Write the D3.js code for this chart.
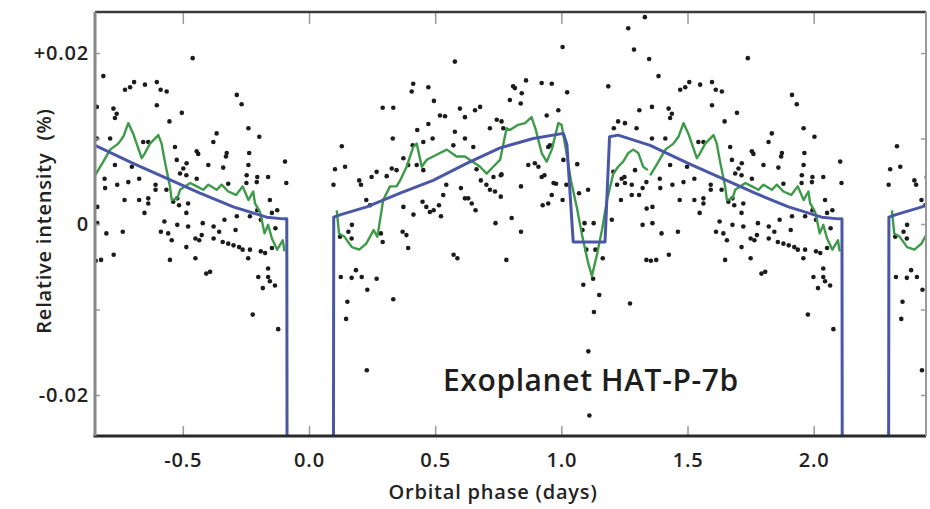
<!DOCTYPE html>
<html>
<head>
<meta charset="utf-8">
<script src="https://cdn.jsdelivr.net/npm/d3@7"></script>
<style>
  body { margin: 0; background: #fff; }
  svg text { font-family: "Open Sans", "DejaVu Sans", sans-serif; }
</style>
</head>
<body>
<div id="chart"></div>
<script>
// Orbital period used to fold the light curve (days)
const periodDays = 2.2;

const xTicks = [-0.5, 0, 0.5, 1, 1.5, 2];
const xTickLabels = ["-0.5", "0.0", "0.5", "1.0", "1.5", "2.0"];
const yTicks = [-0.02, -0.01, 0, 0.01, 0.02];
const yLabelTicks = [0.02, 0, -0.02];
const yLabelText = ["+0.02", "0", "-0.02"];

// raw measurements over one period: [phase (days), relative intensity (%)]
const observations = [
  [-0.461,0.0194],[-0.815,0.0173],[-0.729,0.0157],[-0.709,0.0160],[-0.693,0.0166],[-0.650,0.0163],[-0.603,0.0166],[-0.588,0.0157],
  [-0.564,0.0155],[-0.841,0.0137],[-0.775,0.0135],[-0.762,0.0129],[-0.769,0.0124],[-0.603,0.0139],[-0.504,0.0130],[-0.553,0.0120],
  [-0.286,0.0151],[-0.267,0.0140],[-0.240,0.0112],[-0.366,0.0106],[-0.379,0.0096],[-0.197,0.0102],[-0.841,0.0100],[-0.788,0.0100],
  [-0.531,0.0090],[-0.445,0.0085],[-0.439,0.0082],[-0.326,0.0083],[-0.329,0.0079],[-0.237,0.0083],[-0.657,0.0096],[-0.637,0.0096],
  [-0.524,0.0075],[-0.485,0.0071],[-0.498,0.0065],[-0.399,0.0069],[-0.340,0.0066],[-0.240,0.0069],[-0.769,0.0069],[-0.702,0.0067],
  [-0.511,0.0059],
  [0.578,0.0190],[0.413,0.0164],[0.407,0.0155],[0.473,0.0160],[0.495,0.0144],[0.292,0.0136],[0.334,0.0136],[0.598,0.0135],
  [0.618,0.0125],[0.519,0.0127],[0.539,0.0126],[0.473,0.0117],[0.429,0.0110],[0.332,0.0100],[0.130,0.0091],[0.578,0.0108],
  [0.490,0.0100],[0.453,0.0096],[0.411,0.0092],[0.572,0.0092],[0.618,0.0100],[-0.095,0.0073],[0.103,0.0064],[0.143,0.0067],
  [0.268,0.0061],[0.328,0.0065],[0.347,0.0063],[0.374,0.0077],[0.393,0.0069],[0.427,0.0069],[0.453,0.0063],
  [1.005,0.0207],[1.265,0.0229],[1.331,0.0242],[1.288,0.0204],[1.348,0.0193],[1.186,0.0161],[1.023,0.0154],[0.922,0.0165],
  [0.962,0.0164],[0.860,0.0168],[0.809,0.0161],[0.816,0.0159],[0.843,0.0153],[0.839,0.0141],[0.796,0.0145],[0.658,0.0133],
  [0.678,0.0137],[0.988,0.0133],[0.942,0.0127],[0.744,0.0122],[0.763,0.0120],[0.770,0.0112],[0.717,0.0112],[1.309,0.0133],
  [1.225,0.0120],[1.252,0.0118],[1.208,0.0112],[1.298,0.0112],[0.651,0.0090],[0.955,0.0092],[0.948,0.0090],[0.869,0.0069],
  [0.895,0.0071],[0.909,0.0067],[1.008,0.0075],[1.063,0.0070],[0.763,0.0058],[0.664,0.0064],[1.292,0.0063],[1.206,0.0061],
  [-0.810,0.0053],[-0.760,0.0046],[-0.716,0.0049],[-0.673,0.0053],[-0.731,0.0028],[-0.673,0.0028],[-0.637,0.0030],[-0.637,0.0024],
  [-0.652,0.0013],[-0.608,0.0046],[-0.608,0.0040],[-0.565,0.0040],[-0.522,0.0030],[-0.515,0.0022],[-0.479,0.0024],[-0.486,0.0013],
  [-0.839,0.0020],[-0.839,0.0001],[-0.803,-0.0011],[-0.738,-0.0009],[-0.573,0.0003],[-0.587,-0.0009],[-0.558,-0.0011],[-0.522,-0.0001],
  [-0.479,-0.0003],[-0.421,0.0001],[-0.378,-0.0003],[-0.356,-0.0009],[-0.335,0.0005],[-0.291,-0.0007],[-0.544,-0.0019],[-0.486,-0.0027],
  [-0.450,-0.0017],[-0.435,-0.0019],[-0.378,-0.0017],[-0.342,-0.0021],[-0.320,-0.0023],[-0.299,-0.0025],[-0.277,-0.0027],[-0.263,-0.0030],
  [-0.234,-0.0030],[-0.191,-0.0032],[-0.147,-0.0028],[-0.824,-0.0042],[-0.774,-0.0036],[-0.551,-0.0042],[-0.450,-0.0040],[-0.241,-0.0040],
  [-0.162,-0.0052],[-0.407,-0.0058],[-0.162,-0.0062],[-0.234,0.0009],[-0.205,0.0016],[-0.191,0.0005],[-0.147,0.0013],[-0.126,0.0016],
  [-0.133,-0.0005],[-0.205,0.0055],[-0.162,0.0055],[-0.090,0.0048],[-0.155,0.0028],[-0.248,0.0048],[-0.486,0.0057],[-0.808,0.0042],
  [-0.538,0.0026],[-0.286,0.0009],[-0.207,0.0049],[-0.320,0.0047],[-0.445,0.0053],[-0.247,0.0057],[-0.845,-0.0043],[-0.425,-0.0013],
  [-0.392,-0.0056],[-0.201,-0.0062],[-0.174,-0.0034],[-0.183,-0.0075],[-0.155,-0.0067],[-0.135,-0.0072],[-0.223,-0.0106],[-0.122,-0.0123],
  [0.097,0.0046],[0.199,0.0051],[0.206,0.0046],[0.227,0.0028],[0.242,0.0022],[0.170,-0.0001],[0.285,-0.0011],[0.292,-0.0021],
  [0.371,-0.0009],[0.386,-0.0013],[0.393,-0.0028],[0.414,0.0011],[0.450,0.0026],[0.465,0.0020],[0.479,0.0014],[0.494,0.0016],
  [0.515,0.0022],[0.523,0.0009],[0.544,0.0046],[0.573,-0.0036],[0.588,-0.0040],[0.602,0.0042],[0.631,0.0030],[0.645,0.0024],
  [0.660,0.0016],[0.681,0.0051],[0.703,0.0046],[0.717,0.0040],[0.731,0.0055],[0.760,0.0057],[0.760,0.0032],[0.739,0.0001],
  [0.803,0.0007],[0.840,0.0044],[0.840,-0.0009],[0.782,-0.0042],[0.933,0.0057],[0.926,0.0022],[0.969,0.0048],[0.962,0.0034],
  [1.020,0.0046],[1.005,0.0028],[1.070,0.0036],[1.106,0.0040],[1.092,0.0001],[1.128,0.0001],[1.084,-0.0007],[1.099,-0.0030],
  [1.135,-0.0030],[1.164,-0.0040],[1.200,0.0005],[1.221,0.0046],[1.250,0.0055],[1.236,0.0028],[1.279,0.0046],[1.308,0.0034],
  [1.322,0.0042],[1.337,0.0049],[1.322,-0.0001],[1.337,-0.0042],
  [0.248,0.0055],[0.308,0.0056],[0.374,0.0020],[0.532,0.0034],[0.618,0.0030],[0.737,0.0038],[0.922,0.0055],[0.979,0.0047],
  [1.252,0.0048],[1.239,0.0053],[1.279,0.0034],[1.338,0.0018],[0.948,0.0024],
  [0.126,-0.0062],[0.169,-0.0063],[0.186,-0.0054],[0.209,-0.0062],[0.268,-0.0064],[0.123,-0.0015],[0.169,-0.0017],[0.156,-0.0009],
  [0.231,-0.0077],[0.334,-0.0088],[0.152,-0.0091],[0.147,-0.0111],[0.229,-0.0171],
  [1.087,-0.0071],[1.126,-0.0064],[1.150,-0.0083],[1.129,-0.0103],[1.272,-0.0093],[1.107,-0.0149],[1.111,-0.0224]
];

// smoothed (binned) data, before and after the transit
const binnedBeforeTransit = [
  [-0.848,0.0057],[-0.815,0.0073],[-0.788,0.0087],[-0.756,0.0094],[-0.736,0.0102],[-0.716,0.0118],[-0.697,0.0106],[-0.683,0.0094],
  [-0.663,0.0077],[-0.650,0.0083],[-0.630,0.0094],[-0.597,0.0104],[-0.584,0.0094],[-0.578,0.0084],[-0.571,0.0073],[-0.551,0.0044],
  [-0.544,0.0028],[-0.522,0.0030],[-0.511,0.0040],[-0.471,0.0048],[-0.445,0.0044],[-0.419,0.0040],[-0.399,0.0046],[-0.366,0.0040],
  [-0.346,0.0046],[-0.320,0.0038],[-0.289,0.0034],[-0.263,0.0044],[-0.240,0.0028],[-0.221,0.0038],[-0.214,0.0024],[-0.194,0.0014],
  [-0.176,-0.0011],[-0.162,-0.0001],[-0.147,-0.0017],[-0.126,-0.0030],[-0.104,-0.0019],[-0.097,-0.0032]
];
const binnedAfterTransit = [
  [0.110,0.0016],[0.119,-0.0011],[0.141,-0.0015],[0.170,-0.0027],[0.199,-0.0030],[0.227,-0.0023],[0.256,-0.0007],[0.271,-0.0015],
  [0.294,0.0028],[0.321,0.0044],[0.347,0.0044],[0.361,0.0051],[0.387,0.0067],[0.413,0.0090],[0.427,0.0094],[0.447,0.0067],
  [0.466,0.0075],[0.492,0.0079],[0.519,0.0083],[0.546,0.0087],[0.585,0.0079],[0.618,0.0079],[0.638,0.0075],[0.678,0.0067],
  [0.704,0.0059],[0.730,0.0067],[0.757,0.0075],[0.783,0.0112],[0.796,0.0110],[0.829,0.0116],[0.856,0.0118],[0.882,0.0125],
  [0.899,0.0110],[0.922,0.0083],[0.942,0.0073],[0.962,0.0087],[0.988,0.0118],[1.001,0.0116],[1.018,0.0087],[1.038,0.0051],
  [1.061,0.0020],[1.082,-0.0013],[1.105,-0.0044],[1.121,-0.0061],[1.141,-0.0036],[1.161,-0.0007],[1.181,0.0028],[1.206,0.0059],
  [1.225,0.0067],[1.245,0.0073],[1.265,0.0083],[1.285,0.0087],[1.305,0.0083],[1.324,0.0067],[1.343,0.0063]
];

// model light curve over one period (transit egress to next ingress)
const modelCurve = [
  [0.096,-0.05],[0.098,0.0008],[0.126,0.0011],[0.229,0.0020],[0.361,0.0036],[0.492,0.0051],[0.625,0.0071],[0.757,0.0089],
  [0.889,0.0100],[1.008,0.0106],[1.022,0.0093],[1.047,-0.0021],[1.173,-0.0021],[1.191,0.0102],[1.225,0.0104],[1.352,0.0092],
  [1.503,0.0071],[1.768,0.0036],[1.900,0.0020],[2.032,0.0008],[2.098,0.0006],[2.112,0.0006],[2.114,-0.05]
];

const width = 930, height = 509;
const margin = { top: 12, right: 4, bottom: 73, left: 95 };

const svg = d3.select("#chart").append("svg")
    .attr("width", width)
    .attr("height", height);

const x = d3.scaleLinear().domain([-0.848, 2.445]).range([margin.left, width - margin.right]);
const y = d3.scaleLinear().domain([-0.0248, 0.0248]).range([height - margin.bottom, margin.top]);

svg.append("clipPath").attr("id", "plot-clip")
    .append("rect")
    .attr("x", margin.left).attr("y", margin.top)
    .attr("width", width - margin.left - margin.right)
    .attr("height", height - margin.top - margin.bottom);

const plot = svg.append("g").attr("clip-path", "url(#plot-clip)");
const offsets = [-periodDays, 0, periodDays];

// observed points, repeated each period
const shownObs = [];
offsets.forEach(o => observations.forEach(d => shownObs.push([d[0] + o, d[1]])));
plot.selectAll("circle.obs")
    .data(shownObs)
    .join("circle")
    .attr("class", "obs")
    .attr("cx", d => x(d[0]))
    .attr("cy", d => y(d[1]))
    .attr("r", 2.3)
    .attr("fill", "#1b1b1b");

const line = d3.line().x(d => x(d[0])).y(d => y(d[1]));

// binned data (green)
offsets.forEach(o => {
    [binnedBeforeTransit, binnedAfterTransit].forEach(seg => {
        plot.append("path")
            .attr("d", line(seg.map(d => [d[0] + o, d[1]])))
            .attr("fill", "none")
            .attr("stroke", "#3e9a48")
            .attr("stroke-width", 2.4)
            .attr("stroke-linejoin", "round");
    });
});

// model (blue)
offsets.forEach(o => {
    plot.append("path")
        .attr("d", line(modelCurve.map(d => [d[0] + o, d[1]])))
        .attr("fill", "none")
        .attr("stroke", "#4a57a6")
        .attr("stroke-width", 3)
        .attr("stroke-linejoin", "round");
});

// axes
const bottom = height - margin.bottom;
const right = width - margin.right;

const xAxisB = svg.append("g")
    .attr("transform", `translate(0,${bottom})`)
    .call(d3.axisBottom(x).tickValues(xTicks).tickSize(-10).tickPadding(17)
        .tickFormat((d, i) => xTickLabels[i]));
const xAxisT = svg.append("g")
    .attr("transform", `translate(0,${margin.top})`)
    .call(d3.axisTop(x).tickValues(xTicks).tickSize(-12).tickFormat(""));
const yAxisL = svg.append("g")
    .attr("transform", `translate(${margin.left},0)`)
    .call(d3.axisLeft(y).tickValues(yTicks).tickSize(-5).tickPadding(6)
        .tickFormat(d => {
            const i = yLabelTicks.findIndex(v => Math.abs(v - d) < 1e-9);
            return i >= 0 ? yLabelText[i] : "";
        }));
const yAxisR = svg.append("g")
    .attr("transform", `translate(${right},0)`)
    .call(d3.axisRight(y).tickValues(yTicks).tickSize(-5).tickFormat(""));

[xAxisB, xAxisT, yAxisL, yAxisR].forEach(g => {
    g.select(".domain").remove();
    g.selectAll(".tick line").attr("stroke", "#9a9a9a").attr("stroke-width", 1.5);
    g.selectAll(".tick text")
        .style("font-size", "20px")
        .style("font-weight", 600)
        .style("letter-spacing", "0.8px")
        .attr("fill", "#222");
});

// frame
svg.append("line").attr("x1", margin.left).attr("x2", right).attr("y1", margin.top).attr("y2", margin.top)
    .attr("stroke", "#3a3a3a").attr("stroke-width", 2.5);
svg.append("line").attr("x1", margin.left - 1.5).attr("x2", right).attr("y1", bottom).attr("y2", bottom)
    .attr("stroke", "#2a2a2a").attr("stroke-width", 3);
svg.append("line").attr("x1", margin.left).attr("x2", margin.left).attr("y1", margin.top).attr("y2", bottom)
    .attr("stroke", "#888").attr("stroke-width", 3);
svg.append("line").attr("x1", right).attr("x2", right).attr("y1", margin.top).attr("y2", bottom)
    .attr("stroke", "#999").attr("stroke-width", 2);

// titles
svg.append("text")
    .attr("x", 493).attr("y", 499)
    .attr("text-anchor", "middle")
    .style("font-size", "20px").style("font-weight", 600)
    .style("letter-spacing", "0.8px")
    .attr("fill", "#222")
    .text("Orbital phase (days)");

svg.append("text")
    .attr("transform", "rotate(-90)")
    .attr("x", -221).attr("y", 51)
    .attr("text-anchor", "middle")
    .style("font-size", "20px").style("font-weight", 600)
    .style("letter-spacing", "0.8px")
    .style("white-space", "pre")
    .attr("fill", "#222")
    .text("Relative intensity  (%)");

svg.append("text")
    .attr("x", 443).attr("y", 391)
    .style("font-size", "30px").style("font-weight", 600)
    .style("letter-spacing", "0.6px")
    .attr("fill", "#1e1e1e")
    .text("Exoplanet HAT-P-7b");
</script>
</body>
</html>
